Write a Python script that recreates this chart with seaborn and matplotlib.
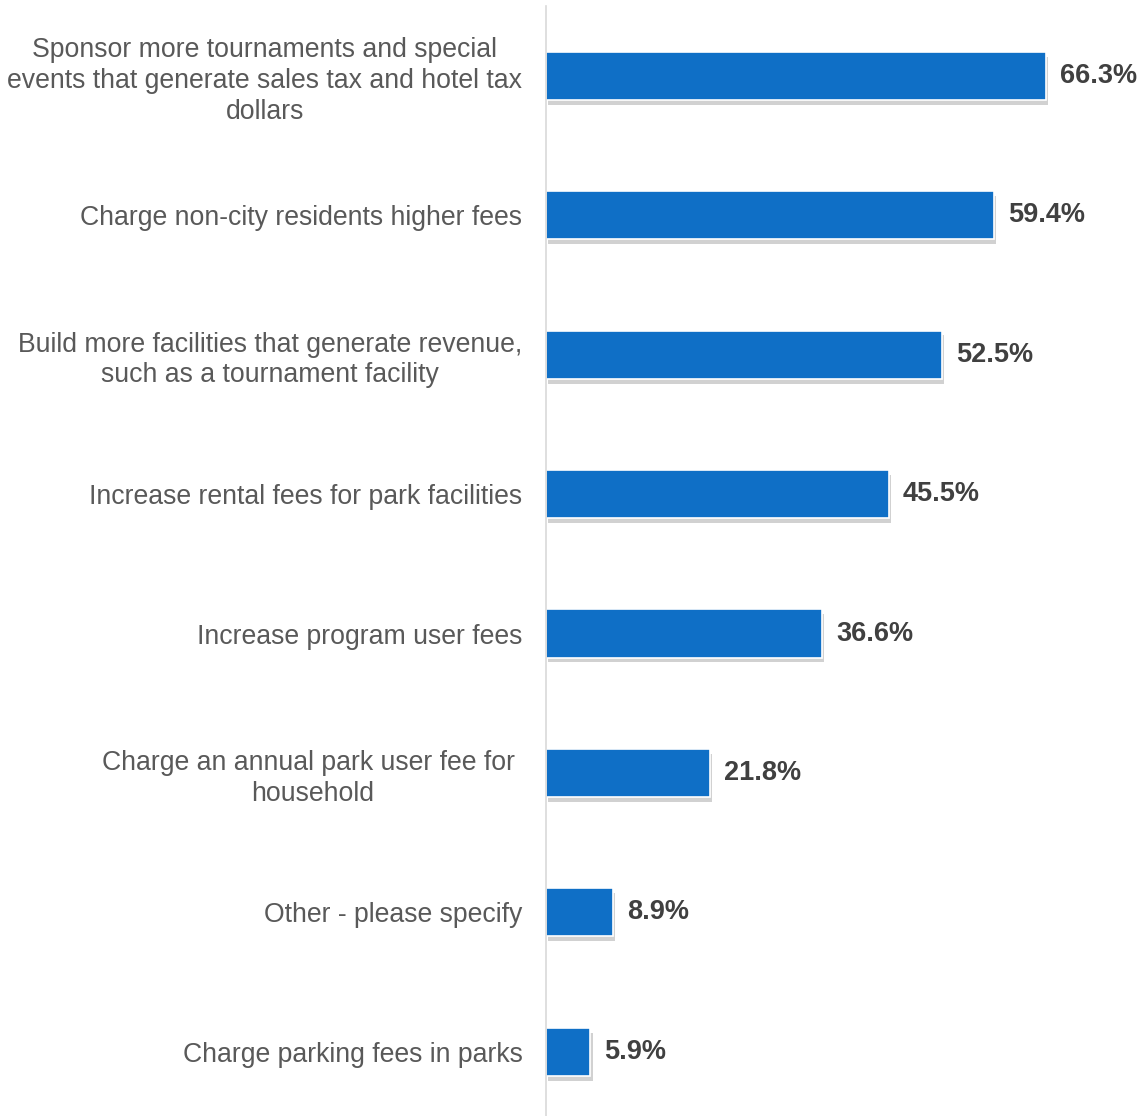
import matplotlib
matplotlib.use("Agg")
import matplotlib.pyplot as plt
import matplotlib.patheffects as pe
import seaborn as sns
import pandas as pd

categories = [
    "Sponsor more tournaments and special\nevents that generate sales tax and hotel tax\ndollars",
    "Charge non-city residents higher fees",
    "Build more facilities that generate revenue,\nsuch as a tournament facility",
    "Increase rental fees for park facilities",
    "Increase program user fees",
    "Charge an annual park user fee for \nhousehold",
    "Other - please specify",
    "Charge parking fees in parks",
]
percentages = [66.3, 59.4, 52.5, 45.5, 36.6, 21.8, 8.9, 5.9]
value_labels = ["66.3%", "59.4%", "52.5%", "45.5%", "36.6%", "21.8%", "8.9%", "5.9%"]

df = pd.DataFrame({"option": categories, "pct": percentages})

sns.set_style("white")
plt.rcParams["font.family"] = ["Liberation Sans", "DejaVu Sans"]

fig = plt.figure(figsize=(11.44, 11.16), dpi=100)
ax = fig.add_axes([546 / 1144, 0.0, 1 - 546 / 1144, 1110 / 1116])

sns.barplot(data=df, y="option", x="pct", orient="h", color="#0f6fc6",
            saturation=1, width=0.345, edgecolor="white", linewidth=1.2, ax=ax)

# soft grey drop shadow under each bar
shadow = [pe.SimplePatchShadow(offset=(1.5, -3.5), shadow_rgbFace="#9a9a9a", alpha=0.45),
          pe.Normal()]
for bar in ax.patches:
    bar.set_path_effects(shadow)

for i, (v, lab) in enumerate(zip(percentages, value_labels)):
    ax.text(v + 1.85, i, lab, va="center", ha="left", fontsize=19.5,
            fontweight="bold", color="#404040")

ax.set_xlim(0, 79.3)
ax.set_ylim(7.46, -0.5)
ax.set_xlabel("")
ax.set_ylabel("")
ax.set_xticks([])
for s in ["top", "right", "bottom"]:
    ax.spines[s].set_visible(False)
ax.spines["left"].set_color("#d9d9d9")
ax.spines["left"].set_linewidth(1.2)
ax.tick_params(axis="y", length=0, pad=17, labelsize=19.2, labelcolor="#595959")
for t in ax.get_yticklabels():
    t.set_multialignment("center")
    t.set_linespacing(1.24)

fig.savefig("out.png", dpi=100, facecolor="white")
